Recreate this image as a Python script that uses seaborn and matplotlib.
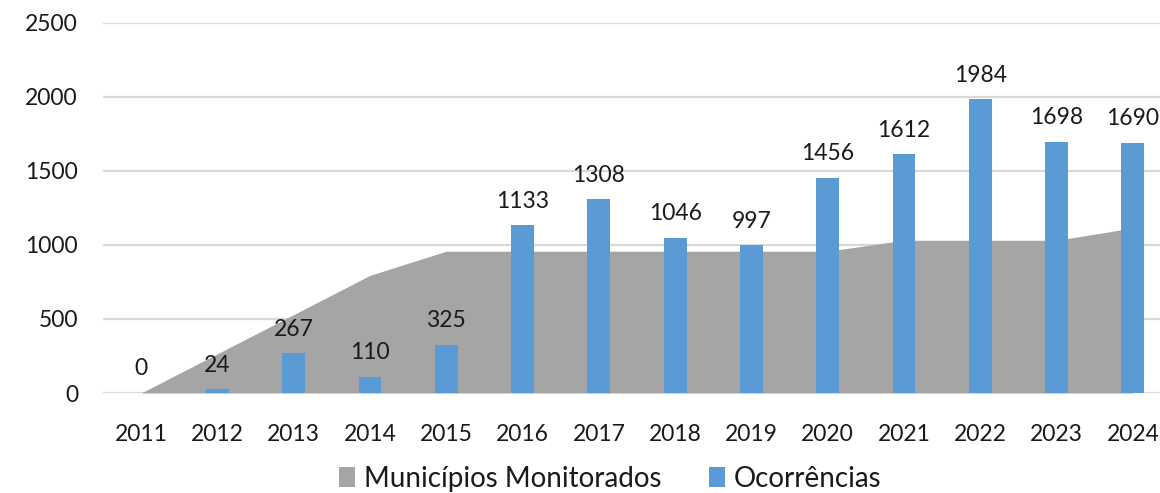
import matplotlib
matplotlib.use("Agg")
import matplotlib.pyplot as plt
import seaborn as sns
import numpy as np
import pandas as pd
from matplotlib.patches import Patch

years = ["2011", "2012", "2013", "2014", "2015", "2016", "2017",
         "2018", "2019", "2020", "2021", "2022", "2023", "2024"]
ocorrencias = [0, 24, 267, 110, 325, 1133, 1308, 1046, 997, 1456, 1612, 1984, 1698, 1690]
municipios = [0, 265, 530, 795, 958, 958, 958, 958, 958, 958, 1032, 1032, 1032, 1115]

bar_color = "#5B9BD5"
area_color = "#A5A5A5"
grid_color = "#D9D9D9"
text_color = "#1a1a1a"

sns.set_theme(style="white")
plt.rcParams['font.family'] = ['Lato', 'DejaVu Sans']

fig = plt.figure(figsize=(11.6, 4.93), dpi=100)
ax = fig.add_axes([103/1160, 1 - 393/493, (1171 - 103)/1160, (393 - 23)/493])

df = pd.DataFrame({"ano": years, "ocorrencias": ocorrencias, "municipios": municipios})
xpos = np.arange(len(years))

ax.fill_between(xpos, 0, df["municipios"], color=area_color, lw=0, zorder=2)
sns.barplot(data=df, x="ano", y="ocorrencias", color=bar_color, width=0.30,
            saturation=1, linewidth=0, edgecolor="none", ax=ax, zorder=3)

for x, v in zip(xpos, ocorrencias):
    ax.annotate(f"{v}", (x, v), xytext=(0, 17.5), textcoords="offset points",
                ha="center", va="center", fontsize=16.5, color=text_color, zorder=5)

ax.set_xlim(-0.5, len(years) - 0.5)
ax.set_ylim(0, 2500)
ax.set_yticks([0, 500, 1000, 1500, 2000, 2500])
ax.yaxis.grid(True, color=grid_color, lw=1.6, zorder=0)
ax.set_axisbelow(True)
for s in ax.spines.values():
    s.set_visible(False)
ax.tick_params(axis="y", length=0, pad=18, labelsize=16.5, labelcolor=text_color)
ax.tick_params(axis="x", length=0, pad=22, labelsize=16.5, labelcolor=text_color)
ax.set_xlabel("")
ax.set_ylabel("")

handles = [Patch(facecolor=area_color, edgecolor="none", label="Municípios Monitorados"),
           Patch(facecolor=bar_color, edgecolor="none", label="Ocorrências")]
fig.legend(handles=handles, loc="center", bbox_to_anchor=(610/1160, 1 - 479/493), ncol=2,
           frameon=False, fontsize=20, handlelength=0.6, handleheight=0.75,
           handletextpad=0.3, columnspacing=1.7, labelcolor=text_color)

fig.savefig("out.png", dpi=100)
